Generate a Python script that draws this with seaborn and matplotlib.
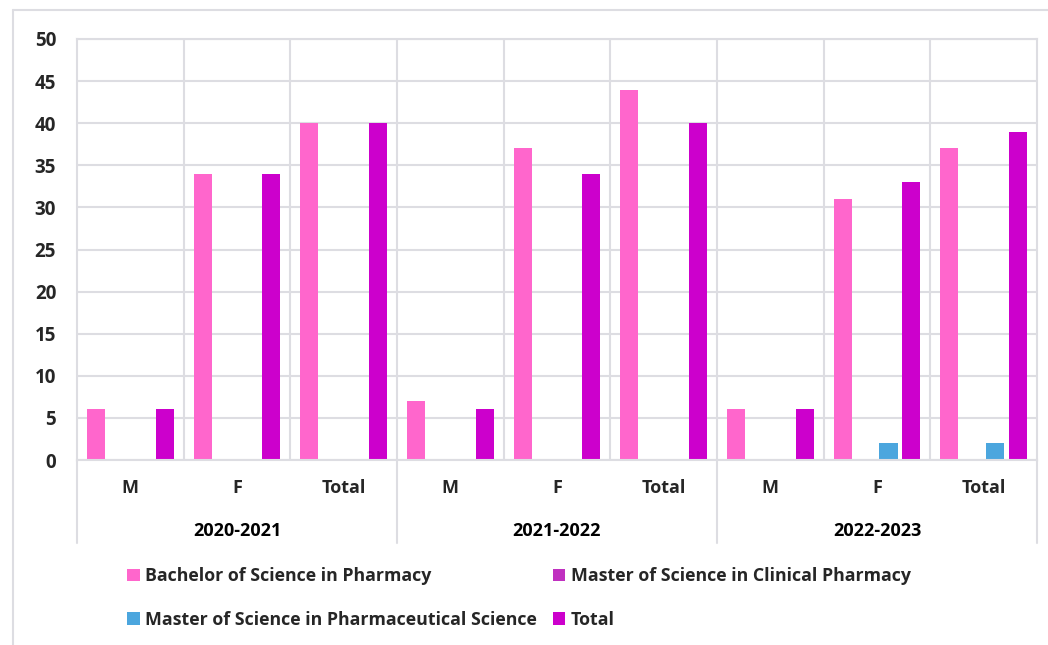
import matplotlib
matplotlib.use("Agg")
import matplotlib.pyplot as plt
import matplotlib.transforms as mtransforms
from matplotlib.lines import Line2D
from matplotlib.patches import Patch
import seaborn as sns
import pandas as pd

years = ["2020-2021", "2021-2022", "2022-2023"]
sub_labels = ["M", "F", "Total"]
series = ["Bachelor of Science in Pharmacy",
          "Master of Science in Clinical Pharmacy",
          "Master of Science in Pharmaceutical Science",
          "Total"]
bachelor = [6, 34, 40, 7, 37, 44, 6, 31, 37]
clinical = [0, 0, 0, 0, 0, 0, 0, 0, 0]
pharm_sci = [0, 0, 0, 0, 0, 0, 0, 2, 2]
total = [6, 34, 40, 6, 34, 40, 6, 33, 39]
colors = ["#FF66CC", "#C030C0", "#4BA6DE", "#CC00CC"]

sns.set_theme(style="white")
plt.rcParams['font.family'] = ['Open Sans', 'DejaVu Sans']
plt.rcParams['font.weight'] = 'bold'

cats = [f"{y} {s}" for y in years for s in sub_labels]
rows = []
for name, vals in zip(series, [bachelor, clinical, pharm_sci, total]):
    for c, v in zip(cats, vals):
        rows.append({"cat": c, "series": name, "value": v})
df = pd.DataFrame(rows)

fig = plt.figure(figsize=(10.48, 6.45), dpi=100)
ax = fig.add_axes([77/1048, 1-460/645, (1037-77)/1048, (460-39)/645])

sns.barplot(data=df, x="cat", y="value", hue="series", order=cats,
            hue_order=series, palette=colors, width=0.86, gap=0.21,
            saturation=1, linewidth=0, ax=ax, legend=False)

gc = "#DDDDE2"
fs_tick = 13.5
fs_cat = 13
fs_leg = 12.8
ax.set_xlim(-0.5, 8.5)
ax.set_ylim(0, 50)
ax.set_yticks(range(0, 51, 5))
ax.set_yticklabels([str(v) for v in range(0, 51, 5)], fontsize=fs_tick, fontweight='bold')
ax.set_xticks(range(9))
ax.set_xticklabels(sub_labels * 3, fontsize=fs_cat, fontweight='bold')
ax.tick_params(axis='x', length=0, pad=14)
ax.tick_params(axis='y', length=0, pad=15)
ax.set_xticks([i + 0.5 for i in range(8)], minor=True)
ax.tick_params(axis='x', which='minor', length=0)
ax.yaxis.grid(True, color=gc, linewidth=1.5)
ax.xaxis.grid(True, which='minor', color=gc, linewidth=1.5)
ax.set_axisbelow(True)
for sp in ax.spines.values():
    sp.set_color(gc)
    sp.set_linewidth(1.5)
ax.set_xlabel("")
ax.set_ylabel("")

trans = mtransforms.blended_transform_factory(ax.transData, ax.transAxes)
for i, y in enumerate(years):
    ax.text(3 * i + 1, -0.168, y, transform=trans, ha='center', va='center',
            fontsize=fs_cat, fontweight='bold', color='black')
for xb in [-0.5, 2.5, 5.5, 8.5]:
    ax.add_line(Line2D([xb, xb], [0, -0.197], transform=trans, color=gc,
                       linewidth=1.5, clip_on=False))

order = [0, 2, 1, 3]
handles = [Patch(facecolor=colors[i], edgecolor='none') for i in order]
labels = [series[i] for i in order]
fig.legend(handles, labels, loc='center', bbox_to_anchor=(519/1048, 1-598/645),
           ncol=2, frameon=False, prop={'size': fs_leg, 'weight': 'bold'},
           handlelength=0.7, handleheight=0.7, handletextpad=0.3,
           columnspacing=0.9, labelspacing=1.45)

fig.add_artist(Line2D([13/1048, 13/1048], [0, 1-10/645], transform=fig.transFigure,
                      color=gc, linewidth=1.5))
fig.add_artist(Line2D([13/1048, 1], [1-10/645, 1-10/645], transform=fig.transFigure,
                      color=gc, linewidth=1.5))

fig.savefig("out.png", dpi=100)
